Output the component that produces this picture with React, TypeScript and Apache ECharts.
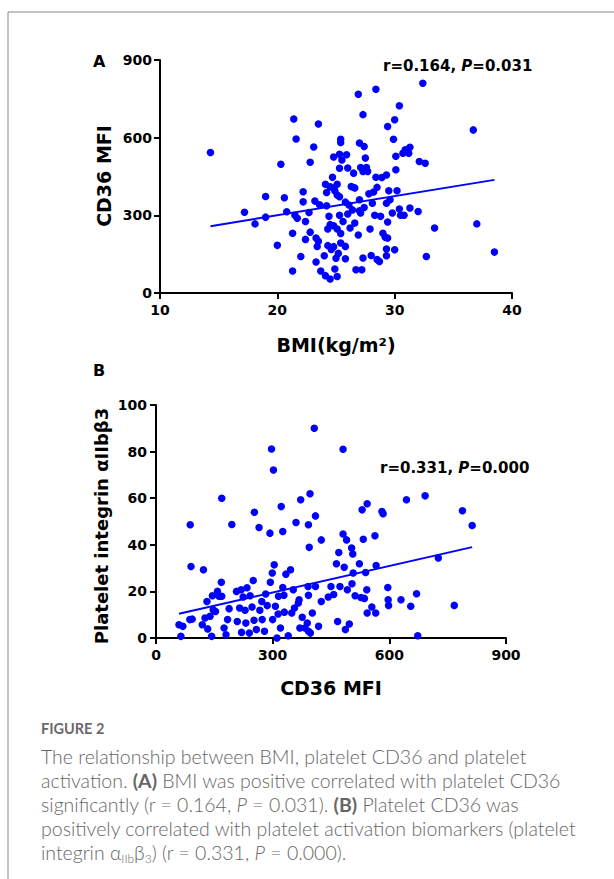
import React, { useEffect, useRef } from "react";
import * as echarts from "echarts";

// Panel A: BMI vs CD36 MFI
const bmiA = [14.3, 17.2, 18.1, 19.0, 19.0, 20.0, 20.3, 20.6, 20.8, 21.4, 21.6, 21.3, 21.3, 21.5, 21.7, 22.0, 22.2, 22.2, 22.4, 22.4, 22.8, 22.7, 22.8, 23.1, 23.3, 23.5, 23.3, 23.4, 23.2, 23.6, 23.7, 24.0, 24.1, 24.2, 24.2, 24.3, 24.1, 24.3, 24.4, 24.6, 24.5, 24.5, 24.7, 24.8, 24.8, 24.8, 24.9, 25.0, 25.1, 25.1, 25.1, 25.2, 25.1, 25.3, 25.3, 25.4, 25.4, 25.3, 25.4, 25.3, 25.4, 25.5, 25.6, 25.8, 25.8, 25.8, 25.9, 26.0, 26.0, 26.4, 26.3, 26.2, 26.5, 26.6, 26.6, 26.7, 26.9, 27.0, 26.9, 27.0, 27.0, 27.1, 27.1, 27.2, 27.3, 27.4, 27.3, 27.3, 27.5, 27.6, 27.7, 27.8, 27.9, 28.1, 28.0, 28.4, 28.4, 28.5, 28.3, 28.2, 28.5, 28.7, 28.8, 28.9, 29.0, 29.2, 29.3, 29.4, 29.3, 29.3, 29.4, 29.3, 29.4, 29.5, 29.6, 29.8, 29.9, 30.0, 30.1, 30.1, 30.0, 30.2, 30.4, 30.4, 30.5, 30.7, 30.8, 30.9, 31.2, 31.3, 31.3, 32.0, 32.1, 32.6, 32.4, 32.7, 33.4, 36.7, 37.0, 38.5, 24.5, 24.9, 24.8, 23.5, 26.1, 27.4];
const cd36A = [543, 312, 267, 373, 293, 184, 497, 368, 314, 672, 595, 231, 85, 300, 289, 141, 391, 352, 276, 207, 505, 311, 235, 564, 212, 653, 120, 180, 355, 341, 85, 144, 420, 388, 337, 247, 67, 183, 296, 168, 54, 264, 447, 525, 405, 179, 93, 134, 420, 379, 247, 153, 64, 536, 482, 594, 581, 300, 230, 372, 193, 514, 276, 351, 180, 132, 534, 483, 305, 321, 411, 251, 463, 406, 270, 90, 768, 579, 224, 360, 318, 485, 309, 90, 689, 566, 135, 469, 521, 485, 469, 383, 247, 347, 145, 787, 447, 408, 300, 390, 129, 122, 296, 446, 231, 215, 456, 643, 347, 170, 274, 144, 212, 395, 360, 309, 594, 669, 476, 528, 167, 395, 723, 324, 300, 540, 300, 553, 540, 563, 328, 315, 508, 501, 810, 141, 251, 630, 267, 158, 410, 395, 260, 200, 340, 330];
const fitAx = [14.3, 38.5];
const fitAy = [258, 437];

// Panel B: CD36 MFI vs platelet integrin
const cd36B = [59, 64, 69, 88, 90, 87, 93, 122, 119, 126, 133, 131, 139, 143, 147, 145, 153, 158, 162, 168, 169, 169, 175, 180, 184, 188, 195, 207, 209, 215, 219, 224, 220, 229, 231, 234, 242, 240, 247, 250, 253, 252, 258, 265, 267, 272, 273, 279, 282, 286, 293, 294, 297, 299, 300, 302, 304, 307, 311, 314, 315, 320, 322, 326, 326, 329, 330, 334, 340, 346, 349, 353, 356, 360, 366, 368, 370, 372, 376, 383, 389, 392, 394, 396, 391, 392, 392, 397, 402, 407, 410, 410, 418, 425, 425, 443, 450, 457, 464, 467, 470, 473, 481, 481, 484, 487, 490, 492, 497, 503, 506, 504, 507, 512, 523, 527, 530, 533, 536, 539, 542, 543, 543, 555, 563, 565, 566, 581, 584, 596, 597, 598, 630, 644, 655, 670, 673, 692, 726, 767, 788, 813];
const integrinB = [5.7, 0.7, 5, 48.6, 30.7, 7.9, 8.1, 29.3, 5.7, 8.6, 3.9, 15.7, 9.3, 0.7, 12.1, 18.1, 11.4, 20, 17.9, 23.9, 60, 17.9, 4.3, 1.4, 7.9, 12.6, 48.7, 20, 7.1, 12.9, 20.7, 17.6, 2.4, 11.9, 6.4, 21.6, 18.1, 2.1, 13.3, 24.7, 54, 7.6, 3.6, 47.4, 11.9, 15.7, 7.9, 2.9, 18.9, 13.9, 45, 23.9, 81.1, 27.9, 7.9, 72.1, 31.4, 13.6, 0, 10.3, 17.9, 4.3, 56.4, 45.7, 21.7, 18.4, 11.1, 27.4, 1, 29.3, 10.7, 20.7, 12.9, 49.6, 15, 16.4, 4.3, 59.3, 8.9, 4.3, 6.4, 48.6, 38.9, 61.9, 22.1, 18.3, 2.9, 2.1, 10.7, 90, 52.4, 22.1, 5, 42.1, 15.7, 17.6, 22.1, 18.7, 31.9, 7.1, 36.7, 22.1, 81, 44.6, 30.4, 3.6, 42.1, 20.7, 6, 38.6, 36.1, 23.3, 27.9, 18.1, 31.9, 17.4, 55, 42.4, 17, 28.1, 20.7, 57.6, 10.7, 13.3, 43.9, 10.7, 31.1, 54.3, 53.3, 21.7, 16.4, 14, 16.4, 59.3, 13.6, 19, 1, 61, 34.3, 14, 54.6, 48.3];
const fitBx = [59, 813];
const fitBy = [10.4, 39];

const FONT = "'DejaVu Sans', 'Liberation Sans', sans-serif";
const BLUE = "#0000ff";

const zip = (a: number[], b: number[]) => a.map((v, i) => [v, b[i]]);

function axisCommon() {
  return {
    type: "value" as const,
    axisLine: { show: true, onZero: false, lineStyle: { color: "#000", width: 2 } },
    axisTick: { show: true, inside: false, length: 6, lineStyle: { color: "#000", width: 2 } },
    axisLabel: { color: "#000", fontFamily: FONT, fontWeight: "bold" as const, fontSize: 14 },
    splitLine: { show: false },
  };
}

const boldText = (x: number, y: number, text: string, size: number, rotation = 0, align = "center") => ({
  type: "text",
  x,
  y,
  rotation,
  style: {
    text,
    fill: "#000",
    fontFamily: FONT,
    fontWeight: "bold",
    fontSize: size,
    textAlign: align,
    textVerticalAlign: "middle",
  },
});

const statText = (x: number, y: number, r: string, p: string) => ({
  type: "text",
  x,
  y,
  style: {
    text: `{a|r=${r}, }{b|P}{a|=${p}}`,
    textAlign: "left",
    textVerticalAlign: "middle",
    rich: {
      a: { fill: "#000", fontFamily: FONT, fontWeight: "bold", fontSize: 15 },
      b: { fill: "#000", fontFamily: FONT, fontWeight: "bold", fontStyle: "italic", fontSize: 15 },
    },
  },
});

export default function App() {
  const ref = useRef<HTMLDivElement>(null);
  useEffect(() => {
    if (!ref.current) return;
    const chart = echarts.init(ref.current, null, { renderer: "svg" });
    const c = axisCommon();
    chart.setOption({
      animation: false,
      backgroundColor: "#fff",
      grid: [
        { left: 160, top: 60, width: 352, height: 233 },
        { left: 156, top: 405, width: 350, height: 233 },
      ],
      xAxis: [
        { ...c, gridIndex: 0, min: 10, max: 40, interval: 10, axisLabel: { ...c.axisLabel, margin: 10 } },
        { ...c, gridIndex: 1, min: 0, max: 900, interval: 300, axisLabel: { ...c.axisLabel, margin: 10 } },
      ],
      yAxis: [
        { ...c, gridIndex: 0, min: 0, max: 900, interval: 300, axisLabel: { ...c.axisLabel, margin: 8 } },
        { ...c, gridIndex: 1, min: 0, max: 100, interval: 20, axisLabel: { ...c.axisLabel, margin: 9 } },
      ],
      series: [
        {
          type: "scatter",
          xAxisIndex: 0,
          yAxisIndex: 0,
          data: zip(bmiA, cd36A),
          symbolSize: 7.5,
          itemStyle: { color: BLUE, opacity: 1 },
        },
        {
          type: "line",
          xAxisIndex: 0,
          yAxisIndex: 0,
          data: zip(fitAx, fitAy),
          symbol: "none",
          lineStyle: { color: BLUE, width: 2 },
        },
        {
          type: "scatter",
          xAxisIndex: 1,
          yAxisIndex: 1,
          data: zip(cd36B, integrinB),
          symbolSize: 7.5,
          itemStyle: { color: BLUE, opacity: 1 },
        },
        {
          type: "line",
          xAxisIndex: 1,
          yAxisIndex: 1,
          data: zip(fitBx, fitBy),
          symbol: "none",
          lineStyle: { color: BLUE, width: 2 },
        },
      ],
      graphic: [
        {
          type: "rect",
          shape: { x: 8, y: 12, width: 700, height: 1000 },
          style: { fill: "none", stroke: "#888", lineWidth: 1 },
          silent: true,
        },
        boldText(93, 61, "A", 16, 0, "left"),
        boldText(93, 370, "B", 16, 0, "left"),
        boldText(104, 176, "CD36 MFI", 19, Math.PI / 2),
        boldText(336, 345, "BMI(kg/m²)", 19),
        boldText(101, 526, "Platelet integrin αIIbβ3", 18, Math.PI / 2),
        boldText(331, 688, "CD36 MFI", 19),
        statText(383, 66, "0.164", "0.031"),
        statText(380, 468, "0.331", "0.000"),
      ],
    });
    return () => chart.dispose();
  }, []);

  const capBase: React.CSSProperties = {
    position: "absolute",
    left: 41,
    fontFamily: "Lato, 'Open Sans', sans-serif",
    color: "#666",
    margin: 0,
    whiteSpace: "nowrap",
  };

  return (
    <div>
      <div ref={ref} style={{ position: "absolute", left: 0, top: 0, width: 614, height: 879 }} />
      <div style={{ ...capBase, top: 722, fontSize: 14.5, lineHeight: "14px", fontWeight: 700, color: "#6a6a6a" }}>
        FIGURE 2
      </div>
      <div style={{ ...capBase, top: 745, fontSize: 19.5, lineHeight: "24px", fontWeight: 300 }}>
        The relationship between BMI, platelet CD36 and platelet
        <br />
        activation. <b style={{ fontWeight: 700 }}>(A)</b> BMI was positive correlated with platelet CD36
        <br />
        significantly (r = 0.164, <i>P</i> = 0.031). <b style={{ fontWeight: 700 }}>(B)</b> Platelet CD36 was
        <br />
        positively correlated with platelet activation biomarkers (platelet
        <br />
        integrin α<sub style={{ fontSize: 12, verticalAlign: "-3px" }}>IIb</sub>β
        <sub style={{ fontSize: 12, verticalAlign: "-3px" }}>3</sub>) (r = 0.331, <i>P</i> = 0.000).
      </div>
    </div>
  );
}
